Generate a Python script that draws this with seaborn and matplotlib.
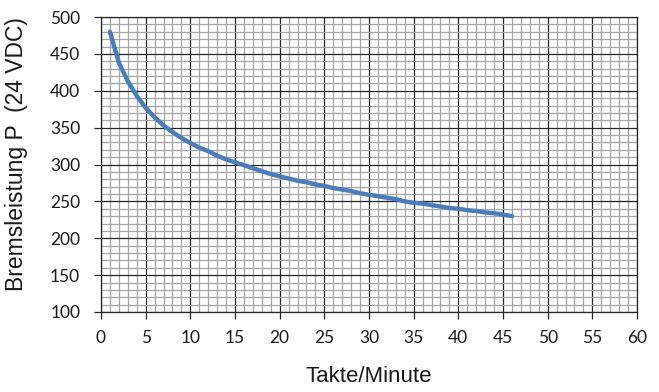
import matplotlib
matplotlib.use("Agg")
import matplotlib.pyplot as plt
import pandas as pd
import seaborn as sns
from matplotlib.ticker import MultipleLocator

# values
takte = [1, 2, 3, 4, 5, 6, 7, 8, 9, 10, 11, 12, 13, 14, 15, 16, 17, 18, 19, 20,
         21, 22, 23, 24, 25, 26, 27, 28, 29, 30, 31, 32, 33, 34, 35, 36, 37, 38, 39, 40,
         41, 42, 43, 44, 45, 46]
leistung = [480, 438, 413, 393, 377, 364, 353, 344, 336, 329, 323, 318, 312, 307, 303, 299, 295, 291, 287, 284,
            281, 278, 276, 273, 271, 268, 266, 264, 261, 259, 257, 255, 253, 250, 248, 247, 245, 243, 241, 240,
            238, 237, 235, 234, 232, 230]

x_ticks = list(range(0, 61, 5))
y_ticks = list(range(100, 501, 50))

df = pd.DataFrame({"t": takte, "p": leistung})

sns.set_style("white")
fig = plt.figure(figsize=(6.59, 3.92), dpi=100)
ax = fig.add_axes([101 / 659, 1 - 312 / 392, 536 / 659, 295 / 392])

sns.lineplot(data=df, x="t", y="p", ax=ax, color="#4a7ebb", linewidth=3.2, zorder=5)

ax.set_xlim(0, 60)
ax.set_ylim(100, 500)
ax.set_xticks(x_ticks)
ax.set_yticks(y_ticks)
ax.xaxis.set_minor_locator(MultipleLocator(1))
ax.yaxis.set_minor_locator(MultipleLocator(10))
ax.grid(which="minor", color="#a6a6a6", linewidth=0.9)
ax.grid(which="major", color="#262626", linewidth=0.9)
ax.set_axisbelow(True)

for s in ax.spines.values():
    s.set_color("#262626")
    s.set_linewidth(0.9)

ax.tick_params(axis="both", which="major", direction="out", length=5, width=0.9,
               color="#262626", labelsize=12.5, left=True, bottom=True)
ax.tick_params(axis="y", which="major", pad=10)
ax.tick_params(axis="x", which="major", pad=8)
ax.tick_params(axis="both", which="minor", length=0)
for lab in ax.get_xticklabels() + ax.get_yticklabels():
    lab.set_family(["Lato", "DejaVu Sans"])
    lab.set_color("#1a1a1a")

ax.set_xlabel("Takte/Minute", family=["Liberation Sans", "DejaVu Sans"], fontsize=16,
              color="#1a1a1a", va="center")
ax.set_ylabel("Bremsleistung P  (24 VDC)", family=["Liberation Sans", "DejaVu Sans"],
              fontsize=16.5, color="#1a1a1a", va="center")
ax.xaxis.set_label_coords(0.5, -0.217)
ax.yaxis.set_label_coords(-0.158, 0.536)

fig.savefig("out.png", dpi=100)
